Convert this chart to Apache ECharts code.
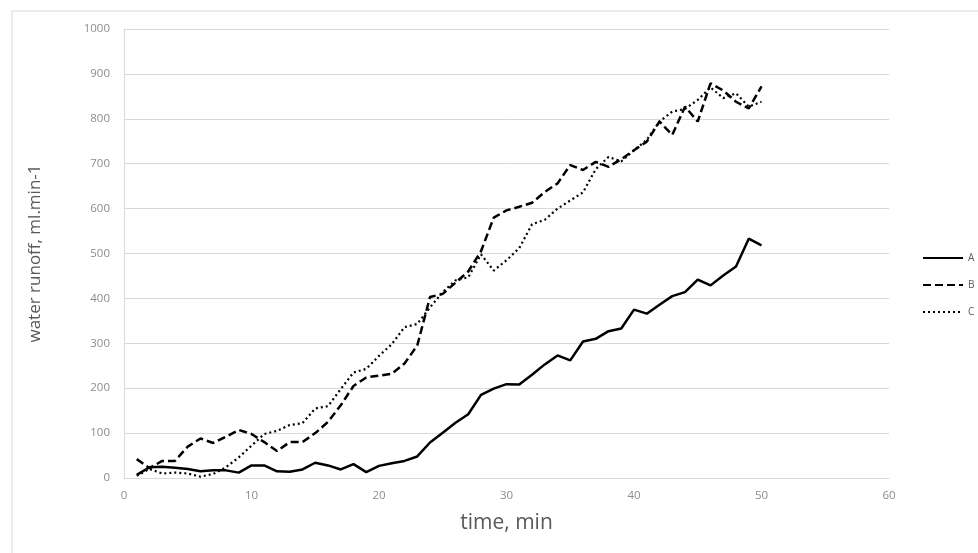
<!DOCTYPE html>
<html>
<head>
<meta charset="utf-8">
<script src="https://cdn.jsdelivr.net/npm/echarts@6/dist/echarts.min.js"></script>
<style>
html,body{margin:0;padding:0;background:#fff;}
#chart{width:978px;height:553px;}
</style>
</head>
<body>
<div id="chart"></div>
<script>
var time = [1,2,3,4,5,6,7,8,9,10,11,12,13,14,15,16,17,18,19,20,21,22,23,24,25,26,27,28,29,30,31,32,33,34,35,36,37,38,39,40,41,42,43,44,45,46,47,48,49,50];
var seriesA = [7,24,25,23,20,15,17,17,12,28,28,15,14,19,34,28,19,31,13,27,33,38,48,79,101,123,142,185,199,209,208,230,253,273,262,304,310,327,333,375,366,386,405,414,442,429,451,471,533,518];
var seriesB = [42,22,38,38,70,88,78,92,107,98,80,60,80,80,100,125,162,205,224,228,232,255,295,403,410,435,460,505,580,596,604,613,637,656,697,686,704,693,710,730,749,794,764,827,794,879,863,838,823,872];
var seriesC = [5,20,10,12,10,3,9,24,46,72,98,105,118,122,155,160,198,235,243,272,298,336,343,380,414,440,447,498,462,485,512,565,575,600,618,636,688,715,705,730,753,794,816,822,842,870,846,857,827,838];
var seriesNames = ['A','B','C'];
var xTicks = [0,10,20,30,40,50,60];
var yTicks = [0,100,200,300,400,500,600,700,800,900,1000];

function pairs(vals){ return time.map(function(t,i){ return [t, vals[i]]; }); }

var chart = echarts.init(document.getElementById('chart'));
var fontFam = '"Open Sans", "Liberation Sans", sans-serif';
chart.setOption({
  animation: false,
  backgroundColor: '#ffffff',
  graphic: [
    {type:'line', shape:{x1:12,y1:11,x2:978,y2:11}, style:{stroke:'#d9d9d9',lineWidth:1}},
    {type:'line', shape:{x1:12,y1:11,x2:12,y2:553}, style:{stroke:'#d9d9d9',lineWidth:1}}
  ],
  grid: {left:124, right:89, top:29, bottom:75},
  legend: {
    orient:'vertical', left:922, top:253, padding:0, itemWidth:40, itemHeight:10, itemGap:17,
    data: seriesNames,
    itemStyle:{color:'rgba(0,0,0,0)', borderColor:'rgba(0,0,0,0)', borderWidth:0},
    textStyle:{color:'#595959', fontSize:10, fontFamily:fontFam}
  },
  xAxis: {
    type:'value', min:xTicks[0], max:xTicks[xTicks.length-1], interval:10,
    name:'time, min', nameLocation:'middle', nameGap:35,
    nameTextStyle:{color:'#595959', fontSize:21, fontFamily:fontFam},
    axisLine:{show:true, lineStyle:{color:'#d9d9d9', width:1}},
    axisTick:{show:false},
    axisLabel:{color:'#8c8c8c', fontSize:11.5, fontFamily:fontFam, margin:12},
    splitLine:{show:false}
  },
  yAxis: {
    type:'value', min:yTicks[0], max:yTicks[yTicks.length-1], interval:100,
    name:'water runoff, ml.min-1', nameLocation:'middle', nameGap:80, nameRotate:90,
    nameTextStyle:{color:'#595959', fontSize:17, fontFamily:fontFam},
    axisLine:{show:true, lineStyle:{color:'#d9d9d9', width:1}},
    axisTick:{show:false},
    axisLabel:{color:'#8c8c8c', fontSize:11.5, fontFamily:fontFam, margin:14,
      formatter:function(v){ return String(v); }},
    splitLine:{show:true, lineStyle:{color:'#d9d9d9', width:1}}
  },
  series: [
    {name:seriesNames[0], type:'line', data:pairs(seriesA), symbol:'none',
     lineStyle:{color:'#000', width:2.5, type:'solid'}, itemStyle:{color:'#000'}},
    {name:seriesNames[1], type:'line', data:pairs(seriesB), symbol:'none',
     lineStyle:{color:'#000', width:2.5, type:[8,4]}, itemStyle:{color:'#000'}},
    {name:seriesNames[2], type:'line', data:pairs(seriesC), symbol:'none',
     lineStyle:{color:'#000', width:2.2, type:[2,3]}, itemStyle:{color:'#000'}}
  ]
});
</script>
</body>
</html>
